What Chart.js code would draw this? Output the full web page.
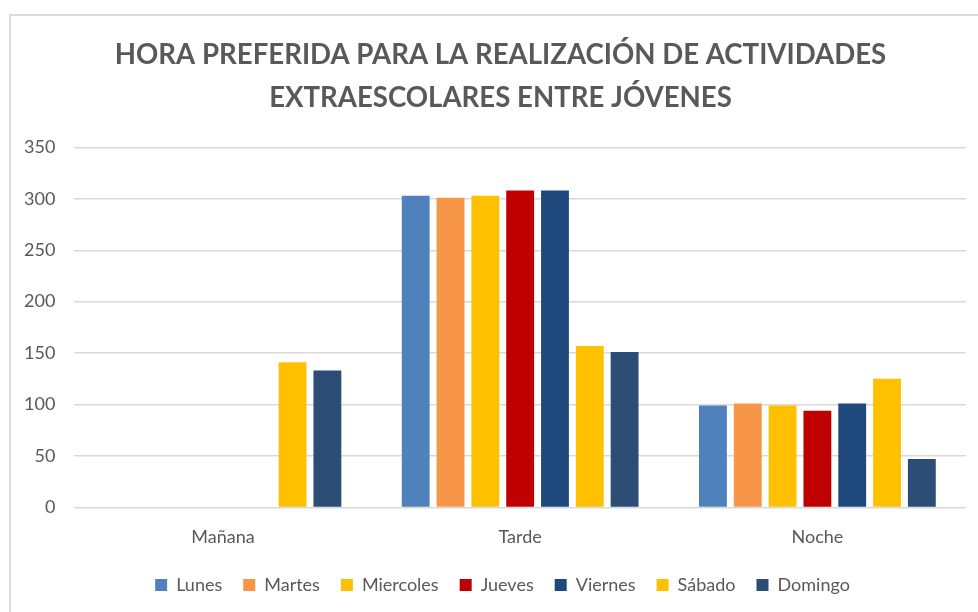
<!DOCTYPE html>
<html lang="es">
<head>
<meta charset="utf-8">
<title>Hora preferida</title>
<script src="https://cdn.jsdelivr.net/npm/chart.js@4.4.1/dist/chart.umd.min.js"></script>
<style>
    html, body {
        margin: 0;
        padding: 0;
        background: #ffffff;
    }

    #wrap {
        position: relative;
        width: 978px;
        height: 612px;
    }
</style>
</head>
<body>

<div id="wrap">
    <canvas id="barChart" width="978" height="612"></canvas>
</div>

<script>
/* ===============================
   DATA
=============================== */

const categories = ["Mañana", "Tarde", "Noche"];

const dias = ["Lunes", "Martes", "Miercoles", "Jueves", "Viernes", "Sábado", "Domingo"];

const lunes     = [0, 303, 99];
const martes    = [0, 301, 101];
const miercoles = [0, 303, 99];
const jueves    = [0, 308, 94];
const viernes   = [0, 308, 101];
const sabado    = [141, 157, 125];
const domingo   = [133, 151, 47];

const yTicks = [0, 50, 100, 150, 200, 250, 300, 350];

const colores = ["#4F81BD", "#F79646", "#FFC000", "#C00000", "#1F497D", "#FFC000", "#2C4D75"];

const titleLines = [
    "HORA PREFERIDA PARA LA REALIZACIÓN DE ACTIVIDADES",
    "EXTRAESCOLARES ENTRE JÓVENES"
];

/* ===============================
   FRAME PLUGIN
=============================== */

const framePlugin = {

    id: "frame",

    // title and legend sit a little right of the canvas centre
    afterLayout(chart) {

        chart.titleBlock.left += 15;
        chart.titleBlock.right += 15;

        chart.legend.left += 17;
        chart.legend.right += 17;

    },

    beforeDraw(chart) {

        const ctx = chart.ctx;

        ctx.save();

        ctx.fillStyle = "#ffffff";
        ctx.fillRect(0, 0, chart.width, chart.height);

        ctx.strokeStyle = "#d9d9d9";
        ctx.lineWidth = 2;

        ctx.beginPath();
        ctx.moveTo(10, chart.height);
        ctx.lineTo(10, 15);
        ctx.lineTo(chart.width, 15);
        ctx.stroke();

        ctx.restore();

    }

};

/* ===============================
   CHART
=============================== */

const series = [lunes, martes, miercoles, jueves, viernes, sabado, domingo];

const datasets = dias.map((dia, i) => ({

    label: dia,
    data: series[i],
    backgroundColor: colores[i],
    borderWidth: 0,
    categoryPercentage: 0.82,
    barPercentage: 0.8

}));

const textColor = "#595959";
const fontFamily = "Lato, 'Noto Sans', sans-serif";

new Chart(document.getElementById("barChart"), {

    type: "bar",

    data: {
        labels: categories,
        datasets: datasets
    },

    plugins: [framePlugin],

    options: {

        responsive: false,
        animation: false,

        layout: {
            padding: { left: 5, right: 12, top: 0, bottom: 8 }
        },

        plugins: {

            title: {
                display: true,
                text: titleLines,
                color: textColor,
                font: {
                    family: fontFamily,
                    size: 27.6,
                    weight: "bold",
                    lineHeight: 1.547
                },
                padding: { top: 34, bottom: 28 }
            },

            legend: {
                position: "bottom",
                labels: {
                    color: textColor,
                    boxWidth: 12,
                    boxHeight: 12,
                    padding: 21,
                    font: { family: fontFamily, size: 18 }
                }
            },

            tooltip: { enabled: false }

        },

        scales: {

            x: {
                grid: { display: false },
                border: { display: false },
                ticks: {
                    color: textColor,
                    padding: 11,
                    font: { family: fontFamily, size: 18 }
                },
                afterFit(scale) {
                    scale.height -= 4;
                }
            },

            y: {
                min: 0,
                max: yTicks[yTicks.length - 1],
                afterBuildTicks(scale) {
                    scale.ticks = yTicks.map(v => ({ value: v }));
                },
                grid: {
                    color: "#d9d9d9",
                    lineWidth: 1.5,
                    drawTicks: false
                },
                border: { display: false },
                ticks: {
                    color: textColor,
                    padding: 19,
                    font: { family: fontFamily, size: 18 }
                }
            }

        }

    }

});
</script>

</body>
</html>
